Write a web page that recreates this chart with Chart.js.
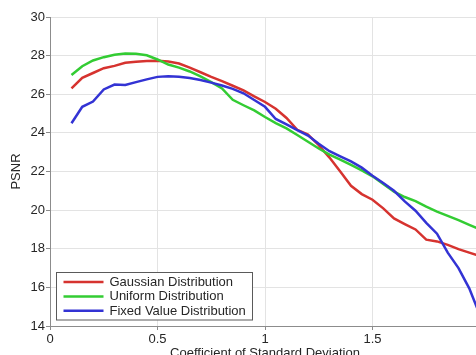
<!DOCTYPE html>
<html>
<head>
<meta charset="utf-8">
<script src="https://cdn.jsdelivr.net/npm/chart.js@4/dist/chart.umd.min.js"></script>
<style>
  html, body { margin: 0; padding: 0; overflow: hidden; background: #fff; }
  #wrap { width: 490px; height: 361px; }
</style>
</head>
<body>
<div id="wrap"><canvas id="chart" width="490" height="361"></canvas></div>
<script>
// Coefficient of standard deviation (x) and PSNR for each noise distribution
const coefficients = [0.1, 0.15, 0.2, 0.25, 0.3, 0.35, 0.4, 0.45, 0.5, 0.55, 0.6, 0.65, 0.7, 0.75, 0.8, 0.85, 0.9, 0.95, 1.0,
  1.05, 1.1, 1.15, 1.2, 1.25, 1.3, 1.35, 1.4, 1.45, 1.5, 1.55, 1.6, 1.65, 1.7, 1.75, 1.8, 1.85, 1.9, 1.95, 2.0];

const gaussianPSNR = [26.30, 26.85, 27.10, 27.35, 27.47, 27.63, 27.68, 27.72, 27.74, 27.70, 27.59, 27.38, 27.14, 26.90, 26.68,
  26.44, 26.20, 25.89, 25.60, 25.25, 24.77, 24.16, 23.91, 23.36, 22.72, 22.00, 21.26, 20.83, 20.54, 20.09, 19.57, 19.28,
  19.00, 18.47, 18.38, 18.20, 17.98, 17.80, 17.62];

const uniformPSNR = [27.00, 27.45, 27.75, 27.92, 28.05, 28.11, 28.10, 28.02, 27.80, 27.54, 27.38, 27.18, 26.92, 26.63, 26.30,
  25.71, 25.43, 25.16, 24.82, 24.51, 24.23, 23.89, 23.54, 23.19, 22.87, 22.62, 22.34, 22.06, 21.75, 21.36, 20.96, 20.68,
  20.47, 20.18, 19.92, 19.70, 19.48, 19.24, 19.00];

const fixedValuePSNR = [24.50, 25.35, 25.62, 26.25, 26.50, 26.48, 26.63, 26.77, 26.90, 26.93, 26.91, 26.84, 26.74, 26.60, 26.45,
  26.28, 26.05, 25.70, 25.35, 24.72, 24.44, 24.14, 23.86, 23.44, 23.05, 22.78, 22.52, 22.20, 21.78, 21.40, 21.00, 20.45,
  19.97, 19.34, 18.78, 17.80, 17.00, 15.95, 14.55];

const seriesNames = ['Gaussian Distribution', 'Uniform Distribution', 'Fixed Value Distribution'];
const seriesColors = ['#d6332f', '#33cc33', '#3333d4'];
const yTicks = [14, 16, 18, 20, 22, 24, 26, 28, 30];
const xTicks = [0, 0.5, 1, 1.5, 2];

const FONT = '"Liberation Sans", Arial, sans-serif';
const TEXT = '#262626';

function toPoints(values) {
  return values.map((v, i) => ({ x: coefficients[i], y: v }));
}

// Boxed legend in the lower-left corner of the plot
const boxedLegend = {
  id: 'boxedLegend',
  afterDatasetsDraw(chart) {
    const ctx = chart.ctx;
    const ca = chart.chartArea;
    const x0 = ca.left + 6.5, y0 = ca.bottom - 53.5, w = 196, h = 47.5;
    ctx.save();
    ctx.fillStyle = '#ffffff';
    ctx.fillRect(x0, y0, w, h);
    ctx.strokeStyle = '#5a5a5a';
    ctx.lineWidth = 1;
    ctx.strokeRect(x0, y0, w, h);
    ctx.font = '13px ' + FONT;
    ctx.textBaseline = 'middle';
    ctx.textAlign = 'left';
    chart.data.datasets.forEach((ds, i) => {
      const cy = y0 + 9.5 + i * 14.4;
      ctx.strokeStyle = ds.borderColor;
      ctx.lineWidth = 2.5;
      ctx.beginPath();
      ctx.moveTo(x0 + 7, cy);
      ctx.lineTo(x0 + 47, cy);
      ctx.stroke();
      ctx.fillStyle = TEXT;
      ctx.fillText(ds.label, x0 + 53, cy + 0.5);
    });
    ctx.restore();
  }
};

const datasets = [gaussianPSNR, uniformPSNR, fixedValuePSNR].map((vals, i) => ({
  label: seriesNames[i],
  data: toPoints(vals),
  borderColor: seriesColors[i],
  backgroundColor: seriesColors[i],
  borderWidth: 2.5,
  pointRadius: 0,
  tension: 0,
  fill: false,
  order: 2 - i
}));

new Chart(document.getElementById('chart'), {
  type: 'line',
  data: { datasets },
  options: {
    responsive: false,
    animation: false,
    events: [],
    layout: { padding: { top: 17, right: 10, bottom: 0, left: 0 } },
    plugins: { legend: { display: false }, tooltip: { enabled: false } },
    scales: {
      x: {
        type: 'linear',
        min: 0,
        max: 2,
        afterBuildTicks(scale) { scale.ticks = xTicks.map(v => ({ value: v })); },
        afterFit(scale) { scale.height = 35; },
        ticks: {
          font: { family: FONT, size: 13 },
          color: TEXT,
          padding: 2,
          maxRotation: 0,
          callback: v => String(v)
        },
        grid: { color: '#e3e3e3', lineWidth: 1, tickLength: 4, tickColor: '#8c8c8c' },
        border: { display: true, color: '#8c8c8c', width: 1 },
        title: {
          display: true,
          text: 'Coefficient of Standard Deviation',
          font: { family: FONT, size: 13 },
          color: TEXT,
          padding: { top: 0, bottom: 0 }
        }
      },
      y: {
        type: 'linear',
        min: 14,
        max: 30,
        afterBuildTicks(scale) { scale.ticks = yTicks.map(v => ({ value: v })); },
        afterFit(scale) { scale.width = 50; },
        ticks: {
          font: { family: FONT, size: 13 },
          color: TEXT,
          padding: 1
        },
        grid: { color: '#e3e3e3', lineWidth: 1, tickLength: 4, tickColor: '#8c8c8c' },
        border: { display: true, color: '#8c8c8c', width: 1 },
        title: {
          display: true,
          text: 'PSNR',
          font: { family: FONT, size: 13 },
          color: TEXT,
          padding: { top: 9, bottom: 0 }
        }
      }
    }
  },
  plugins: [boxedLegend]
});
</script>
</body>
</html>
